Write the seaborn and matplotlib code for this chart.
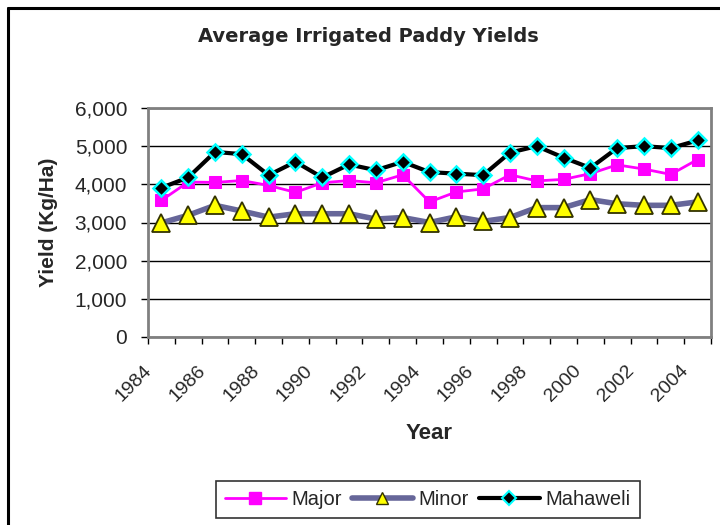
import pandas as pd
import seaborn as sns
import matplotlib.pyplot as plt
import matplotlib.transforms as mtransforms
from matplotlib.lines import Line2D
from matplotlib.ticker import FuncFormatter, FixedLocator

# yields in Kg/Ha
years = list(range(1984, 2005))
major = [3580, 4060, 4050, 4100, 3970, 3790, 4040, 4100, 4040, 4250,
         3540, 3800, 3880, 4250, 4090, 4130, 4280, 4510, 4400, 4260, 4650]
minor = [2990, 3190, 3450, 3300, 3140, 3230, 3230, 3230, 3090, 3130,
         3000, 3150, 3030, 3130, 3390, 3390, 3600, 3490, 3450, 3450, 3540]
mahaweli = [3910, 4180, 4850, 4790, 4240, 4590, 4180, 4520, 4370, 4590,
            4320, 4280, 4240, 4830, 5000, 4700, 4430, 4950, 5000, 4950, 5150]

df = pd.DataFrame({"year": years, "Major": major, "Minor": minor, "Mahaweli": mahaweli})
df["pos"] = range(len(df))

sns.set_style("white")
plt.rcParams["font.family"] = ["Liberation Sans", "DejaVu Sans"]

fig = plt.figure(figsize=(7.2, 5.25), dpi=100)
ax = fig.add_axes([148 / 720, 1 - 337 / 525, (711 - 148) / 720, (337 - 108) / 525])

sns.lineplot(data=df, x="pos", y="Minor", ax=ax, color="#666699", linewidth=4,
             marker="^", markersize=13, markerfacecolor="#FFFF00",
             markeredgecolor="#333300", markeredgewidth=1.3, label="Minor", zorder=3)
sns.lineplot(data=df, x="pos", y="Major", ax=ax, color="#FF00FF", linewidth=2,
             marker="s", markersize=9, markerfacecolor="#FF00FF",
             markeredgecolor="#FF00FF", label="Major", zorder=4)
sns.lineplot(data=df, x="pos", y="Mahaweli", ax=ax, color="black", linewidth=3,
             marker="D", markersize=8.5, markerfacecolor="black",
             markeredgecolor="#00FFFF", markeredgewidth=1.8, label="Mahaweli", zorder=5)

ax.set_xlim(-0.5, len(years) - 0.5)
ax.set_ylim(0, 6000)
ax.set_yticks(range(0, 6001, 1000))
ax.yaxis.set_major_formatter(FuncFormatter(lambda v, p: f"{int(v):,}"))
ax.grid(axis="y", color="black", linewidth=1)
ax.set_axisbelow(True)

ax.set_xticks(df["pos"][::2])
ax.set_xticklabels([str(y) for y in years[::2]], rotation=45, ha="right",
                   va="top", rotation_mode="anchor")
ax.xaxis.set_minor_locator(FixedLocator([p - 0.5 for p in range(len(years) + 1)]))
ax.tick_params(axis="x", which="both", bottom=True)
ax.tick_params(axis="x", which="major", length=0, pad=10, labelsize=14)
ax.tick_params(axis="x", which="minor", length=5, width=1, color="black", direction="out")
ax.tick_params(axis="y", length=5, width=1, color="black", direction="out", left=True,
               labelsize=15, pad=10)

# shift the rotated year labels like Excel does
shift = mtransforms.ScaledTranslation(-0.18, -0.11, fig.dpi_scale_trans)
for lbl in ax.get_xticklabels():
    lbl.set_transform(lbl.get_transform() + shift)

for s in ax.spines.values():
    s.set_color("#808080")
    s.set_linewidth(2)

ax.set_xlabel("Year", fontsize=16, fontweight="bold", labelpad=13)
ax.set_ylabel("Yield (Kg/Ha)", fontsize=15, fontweight="bold", labelpad=12)
ax.get_legend().remove()

fig.text(368 / 720, 1 - 37 / 525, "Average Irrigated Paddy Yields", ha="center",
         va="center", fontsize=14, fontweight="bold", family="DejaVu Sans")

handles = [Line2D([], [], color="#FF00FF", linewidth=2, marker="s", markersize=8,
                  markerfacecolor="#FF00FF"),
           Line2D([], [], color="#666699", linewidth=4, marker="^", markersize=9,
                  markerfacecolor="#FFFF00", markeredgecolor="#333300"),
           Line2D([], [], color="black", linewidth=3, marker="D", markersize=7,
                  markerfacecolor="black", markeredgecolor="#00FFFF", markeredgewidth=1.5)]
leg = fig.legend(handles, ["Major", "Minor", "Mahaweli"], loc="center",
                 bbox_to_anchor=(428 / 720, 1 - 499.5 / 525), ncol=3, fontsize=14.5,
                 frameon=True, fancybox=False, handlelength=3, columnspacing=0.5,
                 handletextpad=0.3, borderpad=0.45)
leg.get_frame().set_edgecolor("black")
leg.get_frame().set_linewidth(1.2)

# outer chart frame (cut off at right and bottom in the reference)
fig.add_artist(Line2D([7.5 / 720, 7.5 / 720], [0, 1 - 7.5 / 525], color="black", linewidth=2.2))
fig.add_artist(Line2D([7.5 / 720, 1], [1 - 7.5 / 525, 1 - 7.5 / 525], color="black", linewidth=2.2))

fig.savefig("out.png", dpi=100)
